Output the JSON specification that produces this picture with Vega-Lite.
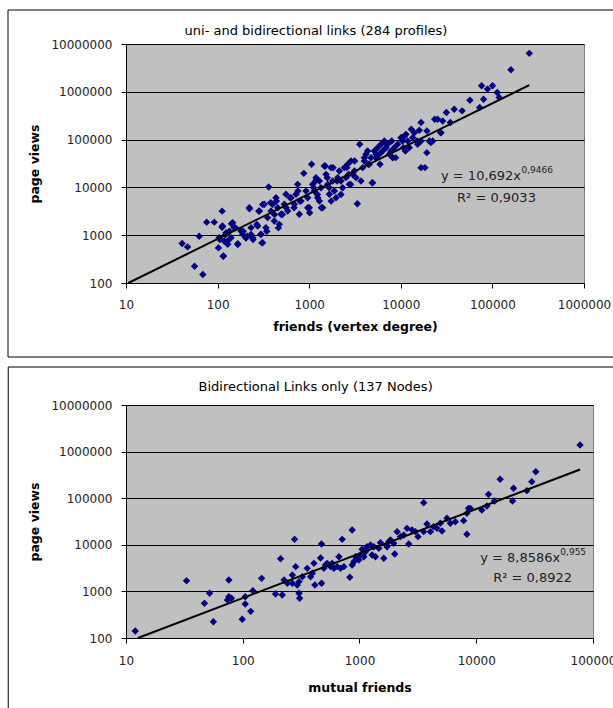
{
"$schema": "https://vega.github.io/schema/vega-lite/v6.json",
"background": "white",
"padding": {"left": 7, "top": 9, "right": 0, "bottom": 0},
"spacing": 7,
"config": {
 "font": "DejaVu Sans",
 "view": {"fill": "#C0C0C0", "stroke": "#808080", "strokeWidth": 1},
 "axis": {"labelFont": "DejaVu Sans", "labelFontSize": 12, "labelColor": "#222", "domainColor": "#000", "tickColor": "#000", "titleFont": "DejaVu Sans", "titleFontSize": 12.5, "titleFontWeight": "bold", "titleColor": "#000", "gridColor": "#000", "gridOpacity": 1, "tickSize": 5, "labelFlush": false, "labelOverlap": false}
},
"datasets": {
 "one": [{}],
 "top": [
  {"friends":41,"views":668},{"friends":47,"views":569},{"friends":63,"views":953},{"friends":56,"views":224},{"friends":69,"views":150},{"friends":76,"views":1876},{"friends":92,"views":1876},{"friends":112,"views":3184},{"friends":112,"views":1472},{"friends":115,"views":362},{"friends":102,"views":542},{"friends":106,"views":811},{"friends":122,"views":1032},{"friends":142,"views":1730},{"friends":135,"views":1214},{"friends":128,"views":748},{"friends":157,"views":1426},{"friends":166,"views":637},{"friends":190,"views":1214},{"friends":204,"views":879},{"friends":223,"views":3565},{"friends":232,"views":1032},{"friends":244,"views":811},{"friends":211,"views":953},{"friends":282,"views":3184},{"friends":311,"views":4393},{"friends":268,"views":1675},{"friends":296,"views":1032},{"friends":305,"views":690},{"friends":344,"views":1214},{"friends":361,"views":10160},{"friends":379,"views":4764},{"friends":418,"views":2716},{"friends":439,"views":5164},{"friends":461,"views":1426},{"friends":509,"views":2716},{"friends":561,"views":3741},{"friends":619,"views":6072},{"friends":683,"views":3741},{"friends":753,"views":8375},{"friends":873,"views":19680},{"friends":791,"views":5164},{"friends":964,"views":3741},{"friends":1011,"views":2944},{"friends":1062,"views":30400},{"friends":1116,"views":9840},{"friends":1172,"views":13580},{"friends":1231,"views":7125},{"friends":1293,"views":5164},{"friends":1358,"views":3741},{"friends":1499,"views":28050},{"friends":1574,"views":15960},{"friends":1653,"views":9840},{"friends":1738,"views":5164},{"friends":1824,"views":25880},{"friends":2014,"views":13580},{"friends":2220,"views":7125},{"friends":2572,"views":25880},{"friends":2703,"views":18750},{"friends":2838,"views":11560},{"friends":3133,"views":35650},{"friends":3357,"views":4540},{"friends":3556,"views":79800},{"friends":4001,"views":41900},{"friends":4414,"views":30400},{"friends":4874,"views":12530},{"friends":5375,"views":49200},{"friends":5934,"views":30400},{"friends":6873,"views":79800},{"friends":7585,"views":49200},{"friends":8790,"views":41900},{"friends":10190,"views":110200},{"friends":11230,"views":57800},{"friends":12390,"views":67900},{"friends":13010,"views":164800},{"friends":15070,"views":93800},{"friends":16630,"views":227500},{"friends":16630,"views":25880},{"friends":18350,"views":25880},{"friends":19260,"views":53300},{"friends":21260,"views":86500},{"friends":23470,"views":267000},{"friends":27170,"views":140300},{"friends":31480,"views":368500},{"friends":34750,"views":227500},{"friends":38330,"views":432500},{"friends":46680,"views":399000},{"friends":56800,"views":668000},{"friends":72600,"views":469000},{"friends":76200,"views":1337000},{"friends":88300,"views":1138000},{"friends":100400,"views":1337000},{"friends":113000,"views":968000},{"friends":118600,"views":760000},{"friends":80100,"views":701000},{"friends":159200,"views":2897000},{"friends":252700,"views":6370000},{"friends":19260,"views":152000},{"friends":7960,"views":93800},{"friends":10680,"views":67900},
  {"friends":113,"views":1560},{"friends":104,"views":887},{"friends":118,"views":757},{"friends":129,"views":644},{"friends":140,"views":887},{"friends":124,"views":1130},{"friends":146,"views":1829},{"friends":152,"views":1439},{"friends":116,"views":367},{"friends":166,"views":665},{"friends":180,"views":1225},{"friends":188,"views":1042},{"friends":204,"views":887},{"friends":222,"views":3767},{"friends":232,"views":1439},{"friends":242,"views":887},{"friends":274,"views":1560},{"friends":286,"views":3206},{"friends":298,"views":1042},{"friends":310,"views":698},{"friends":324,"views":4426},{"friends":337,"views":1439},{"friends":352,"views":2328},{"friends":383,"views":3206},{"friends":399,"views":4426},{"friends":416,"views":1982},{"friends":434,"views":6095},{"friends":453,"views":3767},{"friends":472,"views":1687},{"friends":492,"views":2735},{"friends":535,"views":4426},{"friends":558,"views":7161},{"friends":582,"views":3206},{"friends":633,"views":6095},{"friends":689,"views":4426},{"friends":718,"views":7161},{"friends":748,"views":11590},{"friends":780,"views":2735},{"friends":813,"views":5200},{"friends":923,"views":8414},{"friends":962,"views":6095},{"friends":1003,"views":3767},{"friends":1091,"views":11590},{"friends":1138,"views":8414},{"friends":1186,"views":16000},{"friends":1237,"views":6095},{"friends":1291,"views":13610},{"friends":1346,"views":9863},{"friends":1403,"views":3767},{"friends":1462,"views":28050},{"friends":1525,"views":18750},{"friends":1592,"views":11590},{"friends":1660,"views":7161},{"friends":1730,"views":25880},{"friends":1803,"views":13610},{"friends":1880,"views":8414},{"friends":1963,"views":6095},{"friends":2046,"views":16000},{"friends":2133,"views":22030},{"friends":2223,"views":13610},{"friends":2317,"views":9863},{"friends":2415,"views":25880},{"friends":2523,"views":16000},{"friends":2630,"views":30410},{"friends":2742,"views":11590},{"friends":2858,"views":35650},{"friends":2979,"views":18750},{"friends":3112,"views":22030},{"friends":3243,"views":16000},{"friends":3673,"views":13610},{"friends":3837,"views":25880},{"friends":3999,"views":35650},{"friends":4169,"views":49200},{"friends":4345,"views":57810},{"friends":4529,"views":30410},{"friends":4732,"views":41880},{"friends":4932,"views":12560},{"friends":5140,"views":57810},{"friends":5358,"views":41880},{"friends":5585,"views":67770},{"friends":5834,"views":49200},{"friends":6081,"views":79620},{"friends":6339,"views":57810},{"friends":6607,"views":93540},{"friends":6887,"views":67770},{"friends":7194,"views":79620},{"friends":7499,"views":49200},{"friends":7816,"views":57810},{"friends":8147,"views":41880},{"friends":8492,"views":67770},{"friends":9247,"views":79620},{"friends":10050,"views":109900},{"friends":10470,"views":93540},{"friends":10940,"views":118900},{"friends":11400,"views":128800},{"friends":11890,"views":93540},{"friends":13490,"views":109900},{"friends":14060,"views":139600},{"friends":15280,"views":79620},{"friends":15920,"views":156300},{"friends":16630,"views":93540},{"friends":20510,"views":93540},{"friends":22280,"views":93540},{"friends":25240,"views":265500},{"friends":27480,"views":139600},{"friends":28640,"views":244900}
 ],
 "topfit": [{"friends":10.6,"views":100},{"friends":252700,"views":1375000}],
 "bottom": [
  {"mutual":12,"views":141},{"mutual":33,"views":1698},{"mutual":47,"views":554},{"mutual":52,"views":909},{"mutual":56,"views":224},{"mutual":76,"views":1754},{"mutual":76,"views":770},{"mutual":80,"views":710},{"mutual":74,"views":653},{"mutual":105,"views":770},{"mutual":105,"views":537},{"mutual":99,"views":252},{"mutual":117,"views":373},{"mutual":122,"views":1037},{"mutual":145,"views":1905},{"mutual":191,"views":879},{"mutual":211,"views":5035},{"mutual":218,"views":837},{"mutual":226,"views":1758},{"mutual":241,"views":1490},{"mutual":266,"views":2249},{"mutual":278,"views":13090},{"mutual":284,"views":3397},{"mutual":293,"views":1371},{"mutual":303,"views":909},{"mutual":307,"views":710},{"mutual":324,"views":2070},{"mutual":357,"views":3126},{"mutual":381,"views":2070},{"mutual":407,"views":3999},{"mutual":415,"views":1371},{"mutual":464,"views":5212},{"mutual":473,"views":10400},{"mutual":473,"views":1490},{"mutual":495,"views":3126},{"mutual":529,"views":3999},{"mutual":565,"views":3397},{"mutual":604,"views":3126},{"mutual":666,"views":5559},{"mutual":688,"views":3126},{"mutual":711,"views":13090},{"mutual":735,"views":3397},{"mutual":826,"views":2004},{"mutual":865,"views":20800},{"mutual":865,"views":3683},{"mutual":895,"views":4345},{"mutual":987,"views":4721},{"mutual":1020,"views":6039},{"mutual":1054,"views":7998},{"mutual":1090,"views":5559},{"mutual":1163,"views":9117},{"mutual":1242,"views":9908},{"mutual":1283,"views":6039},{"mutual":1371,"views":5559},{"mutual":1511,"views":11120},{"mutual":1614,"views":5125},{"mutual":1722,"views":9117},{"mutual":1841,"views":12680},{"mutual":1963,"views":10740},{"mutual":2004,"views":6353},{"mutual":2099,"views":19140},{"mutual":2240,"views":14960},{"mutual":2553,"views":22540},{"mutual":2642,"views":10400},{"mutual":2818,"views":20800},{"mutual":3172,"views":14960},{"mutual":3546,"views":80170},{"mutual":3546,"views":19140},{"mutual":3786,"views":27930},{"mutual":4045,"views":19140},{"mutual":4315,"views":24490},{"mutual":5093,"views":19770},{"mutual":4925,"views":28890},{"mutual":5610,"views":36980},{"mutual":5998,"views":28890},{"mutual":7798,"views":32960},{"mutual":8318,"views":16790},{"mutual":8318,"views":47320},{"mutual":8590,"views":60530},{"mutual":8892,"views":60530},{"mutual":12340,"views":68030},{"mutual":12730,"views":121000},{"mutual":14340,"views":87100},{"mutual":16030,"views":254300},{"mutual":20460,"views":87100},{"mutual":20850,"views":162900},{"mutual":27100,"views":145200},{"mutual":29920,"views":226500},{"mutual":32370,"views":370800},{"mutual":77450,"views":1387000},
  {"mutual":266,"views":1490},{"mutual":303,"views":1618},{"mutual":394,"views":2443},{"mutual":512,"views":3683},{"mutual":584,"views":3999},{"mutual":644,"views":3397},{"mutual":925,"views":5559},{"mutual":1125,"views":7129},{"mutual":1327,"views":9117},{"mutual":1463,"views":8395},{"mutual":1782,"views":11670},{"mutual":2393,"views":16220},{"mutual":3013,"views":19140},{"mutual":4613,"views":22540},{"mutual":6622,"views":31330},{"mutual":11170,"views":55850}
 ],
 "bottomfit": [{"mutual":12.65,"views":100},{"mutual":77500,"views":414000}]
},
"vconcat": [
 {
  "width": 458, "height": 239,
  "layer": [
   {
    "data": {"name": "one"},
    "mark": {"type": "rect", "fill": null, "stroke": "#000", "strokeWidth": 1},
    "encoding": {
     "x": {"datum": 0.515, "type": "quantitative", "scale": {"type": "log", "domain": [10, 1000000]}},
     "x2": {"datum": 100000000},
     "y": {"datum": 51400000, "type": "quantitative", "scale": {"type": "log", "domain": [100, 10000000]}},
     "y2": {"datum": 2.83}
    }
   },
   {
    "data": {"name": "one"},
    "mark": {"type": "text", "text": "uni- and bidirectional links (284 profiles)", "align": "center", "baseline": "middle", "fontSize": 13, "color": "#000"},
    "encoding": {"x": {"datum": 1186, "type": "quantitative"}, "y": {"datum": 18700000, "type": "quantitative"}}
   },
   {
    "data": {"name": "top"},
    "mark": {"type": "point", "shape": "diamond", "filled": true, "color": "#000080", "size": 55, "opacity": 1},
    "encoding": {
     "x": {"field": "friends", "type": "quantitative", "scale": {"type": "log", "domain": [10, 1000000]}, "axis": {"title": "friends (vertex degree)", "values": [10,100,1000,10000,100000,1000000], "format": "d", "grid": false, "labelPadding": 11, "titlePadding": 10}},
     "y": {"field": "views", "type": "quantitative", "scale": {"type": "log", "domain": [100, 10000000]}, "axis": {"title": "page views", "values": [100,1000,10000,100000,1000000,10000000], "format": "d", "grid": true, "labelPadding": 9, "titlePadding": 9}}
    }
   },
   {
    "data": {"name": "topfit"},
    "mark": {"type": "line", "color": "#000", "strokeWidth": 2},
    "encoding": {
     "x": {"field": "friends", "type": "quantitative", "scale": {"type": "log", "domain": [10, 1000000]}},
     "y": {"field": "views", "type": "quantitative", "scale": {"type": "log", "domain": [100, 10000000]}}
    }
   },
   {
    "data": {"name": "one"},
    "mark": {"type": "text", "text": "y = 10,692x", "align": "left", "baseline": "middle", "fontSize": 13, "color": "#222"},
    "encoding": {"x": {"datum": 27480, "type": "quantitative"}, "y": {"datum": 17300, "type": "quantitative"}}
   },
   {
    "data": {"name": "one"},
    "mark": {"type": "text", "text": "0,9466", "align": "left", "baseline": "middle", "fontSize": 9, "color": "#222"},
    "encoding": {"x": {"datum": 208000, "type": "quantitative"}, "y": {"datum": 23000, "type": "quantitative"}}
   },
   {
    "data": {"name": "one"},
    "mark": {"type": "text", "text": "R² = 0,9033", "align": "left", "baseline": "middle", "fontSize": 13, "color": "#222"},
    "encoding": {"x": {"datum": 41100, "type": "quantitative"}, "y": {"datum": 6000, "type": "quantitative"}}
   }
  ]
 },
 {
  "width": 467, "height": 233,
  "layer": [
   {
    "data": {"name": "one"},
    "mark": {"type": "rect", "fill": null, "stroke": "#000", "strokeWidth": 1},
    "encoding": {
     "x": {"datum": 0.98, "type": "quantitative", "scale": {"type": "log", "domain": [10, 100000]}},
     "x2": {"datum": 10000000},
     "y": {"datum": 65300000, "type": "quantitative", "scale": {"type": "log", "domain": [100, 10000000]}},
     "y2": {"datum": 1}
    }
   },
   {
    "data": {"name": "one"},
    "mark": {"type": "text", "text": "Bidirectional Links only (137 Nodes)", "align": "center", "baseline": "middle", "fontSize": 13, "color": "#000"},
    "encoding": {"x": {"datum": 421, "type": "quantitative"}, "y": {"datum": 24300000, "type": "quantitative"}}
   },
   {
    "data": {"name": "bottom"},
    "mark": {"type": "point", "shape": "diamond", "filled": true, "color": "#000080", "size": 55, "opacity": 1},
    "encoding": {
     "x": {"field": "mutual", "type": "quantitative", "scale": {"type": "log", "domain": [10, 100000]}, "axis": {"title": "mutual friends", "values": [10,100,1000,10000,100000], "format": "d", "grid": false, "labelPadding": 12, "titlePadding": 15}},
     "y": {"field": "views", "type": "quantitative", "scale": {"type": "log", "domain": [100, 10000000]}, "axis": {"title": "page views", "values": [100,1000,10000,100000,1000000,10000000], "format": "d", "grid": true, "labelPadding": 9, "titlePadding": 9}}
    }
   },
   {
    "data": {"name": "bottomfit"},
    "mark": {"type": "line", "color": "#000", "strokeWidth": 2},
    "encoding": {
     "x": {"field": "mutual", "type": "quantitative", "scale": {"type": "log", "domain": [10, 100000]}},
     "y": {"field": "views", "type": "quantitative", "scale": {"type": "log", "domain": [100, 10000000]}}
    }
   },
   {
    "data": {"name": "one"},
    "mark": {"type": "text", "text": "y = 8,8586x", "align": "left", "baseline": "middle", "fontSize": 13, "color": "#222"},
    "encoding": {"x": {"datum": 10810, "type": "quantitative"}, "y": {"datum": 5210, "type": "quantitative"}}
   },
   {
    "data": {"name": "one"},
    "mark": {"type": "text", "text": "0,955", "align": "left", "baseline": "middle", "fontSize": 9, "color": "#222"},
    "encoding": {"x": {"datum": 52500, "type": "quantitative"}, "y": {"datum": 7100, "type": "quantitative"}}
   },
   {
    "data": {"name": "one"},
    "mark": {"type": "text", "text": "R² = 0,8922", "align": "left", "baseline": "middle", "fontSize": 13, "color": "#222"},
    "encoding": {"x": {"datum": 13960, "type": "quantitative"}, "y": {"datum": 1940, "type": "quantitative"}}
   }
  ]
 }
]
}
